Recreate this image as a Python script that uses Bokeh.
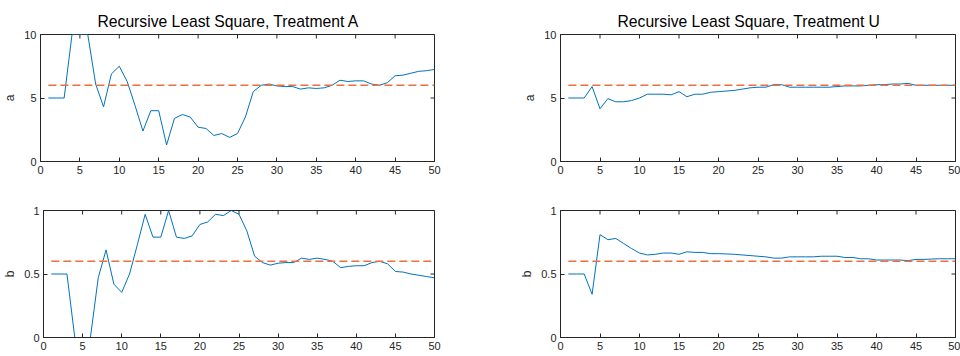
import math
from bokeh.plotting import figure
from bokeh.models import FixedTicker, CustomJSTickFormatter, Range1d
from bokeh.layouts import row, column
from bokeh.embed import file_html
from bokeh.resources import INLINE

t = list(range(1, 51))

a_A = [5, 5, 5, 10, 10, 10, 6.1, 4.3, 6.9, 7.5,
       6.3, 4.4, 2.4, 4.0, 4.0, 1.3, 3.4, 3.7, 3.5, 2.7,
       2.6, 2.05, 2.2, 1.9, 2.2, 3.5, 5.5, 6.0, 6.1, 5.95,
       5.9, 5.9, 5.7, 5.8, 5.75, 5.8, 6.0, 6.4, 6.3, 6.35,
       6.35, 6.1, 6.0, 6.2, 6.75, 6.8, 6.95, 7.1, 7.15, 7.25]
b_A = [0.5, 0.5, 0.5, 0, 0, 0, 0.47, 0.69, 0.42, 0.355,
       0.5, 0.73, 0.97, 0.79, 0.79, 1.0, 0.79, 0.78, 0.8, 0.89,
       0.91, 0.97, 0.96, 1.0, 0.97, 0.84, 0.64, 0.59, 0.57, 0.585,
       0.59, 0.59, 0.625, 0.615, 0.625, 0.615, 0.6, 0.55, 0.56, 0.565,
       0.565, 0.59, 0.6, 0.58, 0.52, 0.515, 0.5, 0.49, 0.48, 0.47]
a_U = [5, 5, 5, 5.9, 4.15, 4.95, 4.7, 4.7, 4.8, 5.0,
       5.3, 5.3, 5.3, 5.25, 5.5, 5.1, 5.3, 5.3, 5.45, 5.5,
       5.55, 5.6, 5.7, 5.8, 5.85, 5.85, 6.05, 6.05, 5.85, 5.85,
       5.85, 5.85, 5.85, 5.85, 5.9, 5.95, 5.95, 5.95, 6.0, 6.05,
       6.05, 6.1, 6.1, 6.15, 6.0, 6.0, 6.0, 6.0, 6.0, 6.0]
b_U = [0.5, 0.5, 0.5, 0.34, 0.81, 0.77, 0.78, 0.74, 0.70, 0.665,
       0.65, 0.655, 0.665, 0.665, 0.655, 0.675, 0.67, 0.67, 0.66, 0.66,
       0.658, 0.655, 0.65, 0.645, 0.64, 0.635, 0.625, 0.625, 0.635, 0.635,
       0.635, 0.635, 0.64, 0.64, 0.64, 0.63, 0.63, 0.62, 0.62, 0.61,
       0.61, 0.61, 0.61, 0.605, 0.615, 0.615, 0.618, 0.62, 0.62, 0.62]

true_a = 6
true_b = 0.6
x_ticks = [0, 5, 10, 15, 20, 25, 30, 35, 40, 45, 50]
a_ticks = [0, 5, 10]
b_ticks = [0, 0.5, 1]
titles = ["Recursive Least Square, Treatment A", "Recursive Least Square, Treatment U"]

FONT = "Liberation Sans"
DARK = "#262626"
BLUE = "#0072BD"
ORANGE = "#EE6E3E"


def style_axis(ax):
    ax.major_tick_in = 4
    ax.major_tick_out = 0
    ax.minor_tick_line_color = None
    ax.axis_line_color = DARK
    ax.major_tick_line_color = DARK
    ax.major_label_text_font = FONT
    ax.major_label_text_color = DARK
    ax.major_label_text_font_size = "11px"
    ax.major_label_standoff = 4
    ax.formatter = CustomJSTickFormatter(code="return String(tick)")


def make(series, ref, yticks, ymax, ylabel, title, left, right, top, height):
    p = figure(width=480, height=height, output_backend="svg", toolbar_location=None,
               x_range=Range1d(0, 50), y_range=Range1d(0, ymax),
               min_border_left=left, min_border_right=right,
               min_border_top=top, min_border_bottom=19)
    p.grid.visible = False
    p.outline_line_color = DARK
    p.background_fill_color = "white"
    p.border_fill_color = "white"

    p.xaxis.ticker = FixedTicker(ticks=x_ticks)
    p.yaxis.ticker = FixedTicker(ticks=yticks)
    style_axis(p.xaxis[0])
    style_axis(p.yaxis[0])
    p.yaxis.axis_label = ylabel
    p.yaxis.axis_label_text_font = FONT
    p.yaxis.axis_label_text_font_style = "normal"
    p.yaxis.axis_label_text_font_size = "12px"
    p.yaxis.axis_label_text_color = DARK
    p.yaxis.axis_label_standoff = 4

    # inward tick marks on the top and right edges of the box (clipped to the frame)
    p.scatter(x_ticks, [ymax] * len(x_ticks), marker="dash", size=8, angle=math.pi / 2,
              line_color=DARK, line_width=1)
    p.scatter([50] * len(yticks), yticks, marker="dash", size=8,
              line_color=DARK, line_width=1)

    if title:
        p.title.text = title
        p.title.text_font = FONT
        p.title.text_font_size = "15.7px"
        p.title.text_font_style = "normal"
        p.title.text_color = "black"
        p.title.align = "left"
        p.title.offset = 57
        p.title.standoff = 10

    p.line(t, series, color=BLUE, line_width=1)
    p.line([t[0], t[-1]], [ref, ref], color=ORANGE, line_width=1.4, line_dash="8 4")
    return p


p1 = make(a_A, true_a, a_ticks, 10, "a", titles[0], 39, 46, 34, 180)
p2 = make(a_U, true_a, a_ticks, 10, "a", titles[1], 80, 5, 34, 180)
p3 = make(b_A, true_b, b_ticks, 1, "b", None, 39, 46, 30, 176)
p4 = make(b_U, true_b, b_ticks, 1, "b", None, 80, 5, 30, 176)

layout = column(row(p1, p2, spacing=0), row(p3, p4, spacing=0), spacing=0)
open("out.html", "w").write(file_html(layout, INLINE))
